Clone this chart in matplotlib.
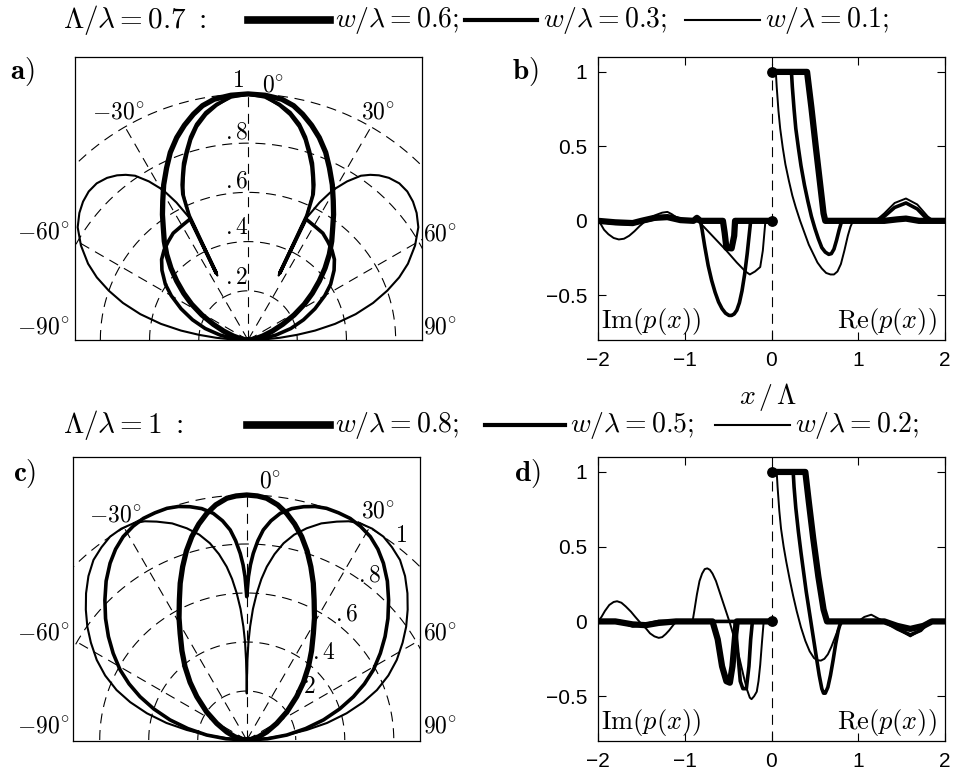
import numpy as np
import matplotlib
matplotlib.use('Agg')
import matplotlib.pyplot as plt
from matplotlib.lines import Line2D

plt.rcParams['mathtext.fontset'] = 'cm'
plt.rcParams['font.family'] = ['Liberation Sans', 'DejaVu Sans']

W, H = 958, 776

# far field patterns, right half only (theta in deg, patterns are symmetric)
# a) Lambda/lambda = 0.7
a_th_06 = [0, 4, 8, 11, 13.6, 16.5, 19.4, 22.5, 25.3, 28.5, 31.5, 34.3, 37, 40.3, 43.5, 47, 50.4,
           54, 57.6, 61.5, 65.6, 70, 75, 80, 85, 90]
a_r_06 = [1.0, 0.997, 0.988, 0.97, 0.944, 0.91, 0.872, 0.825, 0.774, 0.718, 0.663, 0.617, 0.572,
          0.526, 0.48, 0.428, 0.376, 0.323, 0.271, 0.213, 0.155, 0.105, 0.062, 0.032, 0.01, 0.0]
a_th_03 = [0, 4, 7.6, 10.5, 13.4, 15.8, 18, 20, 21.5, 23, 24.1, 25.3, 25.4, 25.6, 28, 31, 35, 39,
           43, 47, 51, 56, 60, 65, 70, 75, 80, 85, 90]
a_r_03 = [1.0, 0.99, 0.966, 0.94, 0.901, 0.857, 0.808, 0.765, 0.724, 0.685, 0.649, 0.56, 0.30,
          0.545, 0.54, 0.535, 0.53, 0.515, 0.5, 0.48, 0.45, 0.405, 0.36, 0.3, 0.24, 0.18, 0.115,
          0.055, 0.0]
a_th_01 = [0, 4, 7.6, 10.5, 13.4, 15.8, 18, 20, 21.5, 23, 24.1, 25.3, 25.4, 25.6, 27.5, 29.5, 32,
           34.5, 36.5, 38.5, 41, 44, 47, 50, 53, 56.5, 60.5, 64.5, 67.5, 70.5, 73.5, 76.5, 79.5,
           82, 84, 86, 88, 90]
a_r_01 = [1.0, 0.99, 0.96, 0.93, 0.89, 0.845, 0.795, 0.75, 0.71, 0.67, 0.635, 0.55, 0.29, 0.55,
          0.63, 0.70, 0.76, 0.81, 0.835, 0.855, 0.873, 0.885, 0.885, 0.875, 0.858, 0.83, 0.78,
          0.72, 0.665, 0.60, 0.53, 0.45, 0.36, 0.275, 0.2, 0.13, 0.065, 0.0]

# c) Lambda/lambda = 1
c_th_08 = [0, 2.5, 4.7, 7.5, 10, 12.5, 15.1, 17.7, 20.3, 23, 25.7, 29, 32, 36, 40.1, 44.5, 49, 55,
           61, 68, 75, 82, 90]
c_r_08 = [1.0, 0.997, 0.99, 0.968, 0.939, 0.903, 0.86, 0.81, 0.754, 0.695, 0.634, 0.57, 0.513,
          0.45, 0.391, 0.33, 0.27, 0.2, 0.14, 0.088, 0.05, 0.02, 0.0]
c_th_05 = [0, 0.3, 0.6, 1.2, 2, 3.2, 4.5, 6.3, 8.4, 11, 13.7, 16.3, 19, 22, 25, 28, 31.3, 34.5,
           37.7, 41.5, 45.4, 49.3, 53.2, 57, 61, 64.5, 67.9, 71.5, 75.3, 79, 82.9, 86.5, 90]
c_r_05 = [0.585, 0.625, 0.667, 0.715, 0.762, 0.815, 0.86, 0.9, 0.935, 0.962, 0.98, 0.993, 1.0, 1.0,
          0.998, 0.988, 0.971, 0.945, 0.912, 0.866, 0.813, 0.76, 0.705, 0.65, 0.591, 0.532, 0.47,
          0.4, 0.324, 0.245, 0.165, 0.085, 0.0]
c_th_02 = [0, 0.25, 0.5, 1, 1.7, 2.7, 3.9, 5.2, 6.6, 8.5, 10.6, 13, 15.8, 19, 22.4, 25, 27.6, 30.7,
           33.9, 37, 40.4, 44, 47.6, 51, 54.6, 58, 61.9, 65.5, 69, 72, 75, 78, 80.5, 83, 85, 87.5, 90]
c_r_02 = [0.19, 0.26, 0.327, 0.4, 0.463, 0.535, 0.6, 0.66, 0.712, 0.767, 0.817, 0.86, 0.898, 0.935,
          0.964, 0.985, 0.998, 1.003, 1.0, 0.985, 0.965, 0.93, 0.888, 0.845, 0.798, 0.75, 0.694,
          0.635, 0.569, 0.5, 0.422, 0.335, 0.248, 0.16, 0.082, 0.035, 0.0]

# b) p(x), Lambda/lambda = 0.7
b_im_x_06 = [-2.0, -1.8, -1.6, -1.5, -1.35, -1.2, -1.05, -0.9, -0.86, -0.82, -0.56, -0.54, -0.52, -0.46, -0.43, -0.42, 0.0]
b_im_y_06 = [0.0, -0.01, -0.015, 0.0, 0.02, 0.025, 0.005, 0.0, 0.02, 0.0, 0.0, -0.08, -0.18, -0.185, -0.1, 0.0, 0.0]
b_im_x_03 = [-2.0, -1.85, -1.65, -1.45, -1.3, -1.15, -1.0, -0.82, -0.8, -0.77, -0.73, -0.69, -0.65,
             -0.61, -0.57, -0.53, -0.49, -0.46, -0.43, -0.4, -0.37, -0.34, -0.31, -0.28, -0.26, -0.24, 0.0]
b_im_y_03 = [0.0, -0.015, -0.02, 0.0, 0.02, 0.03, 0.0, 0.0, -0.06, -0.17, -0.3, -0.4, -0.48,
             -0.545, -0.59, -0.62, -0.635, -0.635, -0.625, -0.6, -0.55, -0.47, -0.36, -0.22, -0.11, 0.0, 0.0]
b_im_x_01 = [-2.0, -1.97, -1.93, -1.88, -1.82, -1.76, -1.7, -1.64, -1.58, -1.52, -1.46, -1.4, -1.33,
             -1.26, -1.2, -1.15, -1.1, -1.05, -1.02, -0.85, -0.78, -0.65, -0.52, -0.4, -0.3, -0.25,
             -0.19, -0.13, -0.1, -0.07, 0.0]
b_im_y_01 = [0.0, -0.02, -0.06, -0.09, -0.115, -0.125, -0.12, -0.1, -0.07, -0.035, -0.005, 0.02, 0.04,
             0.055, 0.06, 0.045, 0.025, 0.005, 0.0, 0.0, -0.04, -0.12, -0.2, -0.28, -0.34, -0.36,
             -0.34, -0.31, -0.2, 0.0, 0.0]
b_re_x_06 = [0.0, 0.41, 0.46, 0.51, 0.56, 0.6, 0.62, 1.3, 1.45, 1.55, 1.7, 2.0]
b_re_y_06 = [1.0, 1.0, 0.76, 0.5, 0.25, 0.05, 0.0, 0.0, 0.01, 0.015, 0.0, 0.0]
b_re_x_03 = [0.23, 0.24, 0.26, 0.28, 0.31, 0.34, 0.38, 0.42, 0.46, 0.5, 0.54, 0.58, 0.62, 0.66, 0.69,
             0.72, 0.75, 0.78, 0.81, 1.2, 1.3, 1.42, 1.55, 1.68, 1.78, 1.85, 2.0]
b_re_y_03 = [1.0, 0.9, 0.75, 0.62, 0.49, 0.37, 0.24, 0.13, 0.03, -0.05, -0.12, -0.18, -0.21, -0.225,
             -0.22, -0.19, -0.13, -0.06, 0.0, 0.0, 0.03, 0.09, 0.12, 0.08, 0.02, 0.0, 0.0]
b_re_x_01 = [0.05, 0.06, 0.08, 0.1, 0.13, 0.16, 0.2, 0.24, 0.28, 0.33, 0.38, 0.43, 0.48, 0.53, 0.58,
             0.63, 0.68, 0.72, 0.76, 0.8, 0.84, 0.88, 0.91, 0.94, 1.2, 1.3, 1.42, 1.55, 1.68, 1.8,
             1.87, 2.0]
b_re_y_01 = [1.0, 0.9, 0.74, 0.62, 0.49, 0.38, 0.27, 0.17, 0.09, 0.0, -0.08, -0.16, -0.22, -0.28,
             -0.32, -0.35, -0.36, -0.36, -0.34, -0.29, -0.2, -0.1, -0.04, 0.0, 0.0, 0.05, 0.12, 0.15,
             0.11, 0.03, 0.0, 0.0]

# d) p(x), Lambda/lambda = 1
d_im_x_08 = [-2.0, -1.8, -1.6, -1.45, -1.3, -1.1, -0.68, -0.62, -0.57, -0.52, -0.48, -0.45, -0.42, -0.4, 0.0]
d_im_y_08 = [0.0, 0.0, -0.02, -0.025, -0.01, 0.0, 0.0, -0.12, -0.3, -0.4, -0.41, -0.3, -0.1, 0.0, 0.0]
d_im_x_05 = [-2.0, -1.75, -1.6, -1.45, -1.3, -1.1, -0.42, -0.39, -0.36, -0.33, -0.29, -0.26, -0.24, -0.22, 0.0]
d_im_y_05 = [0.0, 0.0, -0.03, -0.02, 0.0, 0.0, 0.0, -0.2, -0.4, -0.45, -0.45, -0.3, -0.12, 0.0, 0.0]
d_im_x_02 = [-2.0, -1.96, -1.92, -1.87, -1.82, -1.78, -1.73, -1.68, -1.62, -1.57, -1.51, -1.45, -1.4,
             -1.35, -1.3, -1.26, -1.22, -1.18, -1.14, -1.1, -0.91, -0.89, -0.86, -0.83, -0.8, -0.77,
             -0.74, -0.71, -0.68, -0.64, -0.6, -0.56, -0.52, -0.48, -0.44, -0.4, -0.36, -0.32, -0.28,
             -0.25, -0.23, -0.2, -0.17, -0.15, -0.13, -0.11, -0.09, 0.0]
d_im_y_02 = [0.0, 0.03, 0.07, 0.11, 0.13, 0.135, 0.125, 0.1, 0.065, 0.03, -0.01, -0.045, -0.08,
             -0.1, -0.11, -0.105, -0.085, -0.06, -0.03, 0.0, 0.0, 0.07, 0.18, 0.27, 0.32, 0.35,
             0.355, 0.345, 0.32, 0.27, 0.2, 0.13, 0.06, -0.01, -0.09, -0.17, -0.27, -0.37, -0.46,
             -0.51, -0.52, -0.5, -0.47, -0.4, -0.29, -0.14, 0.0, 0.0]
d_re_x_08 = [0.0, 0.39, 0.43, 0.48, 0.54, 0.6, 0.64, 1.3, 1.45, 1.6, 1.75, 1.85, 2.0]
d_re_y_08 = [1.0, 1.0, 0.8, 0.56, 0.3, 0.08, 0.0, 0.0, -0.03, -0.05, -0.03, 0.0, 0.0]
d_re_x_05 = [0.25, 0.26, 0.28, 0.31, 0.34, 0.37, 0.4, 0.44, 0.48, 0.52, 0.55, 0.58, 0.6, 0.62, 0.65,
             0.68, 0.71, 0.74, 0.77, 0.8, 1.3, 1.45, 1.6, 1.72, 1.82, 2.0]
d_re_y_05 = [1.0, 0.9, 0.76, 0.6, 0.46, 0.33, 0.2, 0.05, -0.1, -0.25, -0.36, -0.45, -0.48, -0.48,
             -0.44, -0.36, -0.26, -0.15, -0.06, 0.0, 0.0, -0.05, -0.09, -0.06, 0.0, 0.0]
d_re_x_02 = [0.06, 0.07, 0.09, 0.11, 0.14, 0.17, 0.21, 0.25, 0.29, 0.34, 0.39, 0.44, 0.49, 0.53, 0.57,
             0.61, 0.65, 0.69, 0.73, 0.77, 0.8, 0.83, 1.0, 1.07, 1.15, 1.23, 1.3, 1.45, 1.6, 1.72,
             1.82, 2.0]
d_re_y_02 = [1.0, 0.9, 0.74, 0.62, 0.5, 0.4, 0.28, 0.17, 0.07, -0.04, -0.13, -0.2, -0.245, -0.26,
             -0.262, -0.25, -0.22, -0.17, -0.11, -0.05, -0.02, 0.0, 0.0, 0.03, 0.045, 0.02, 0.0,
             -0.05, -0.1, -0.06, 0.0, 0.0]

ring_vals = [0.2, 0.4, 0.6, 0.8, 1.0]
ring_labels = ['.2', '.4', '.6', '.8', '1']
spoke_angles = [-60, -30, 0, 30, 60]

LW = [4.5, 2.6, 1.4]   # thick / medium / thin
GRID_DASH = (9, 6)

fig = plt.figure(figsize=(W / 100, H / 100), dpi=100)


def rect(left, top, right, bottom):
    return [left / W, 1 - bottom / H, (right - left) / W, (bottom - top) / H]


def polar_panel(r_, xlim, ylim, curves, rlab_pos, alab_pos):
    ax = fig.add_axes(r_)
    ax.set_xlim(xlim)
    ax.set_ylim(ylim)
    ax.set_xticks([])
    ax.set_yticks([])
    for s in ax.spines.values():
        s.set_linewidth(0.9)
    t = np.linspace(-np.pi / 2, np.pi / 2, 300)
    for rr in ring_vals:
        ax.plot(rr * np.sin(t), rr * np.cos(t), color='k', lw=0.8, dashes=GRID_DASH)
    for a in spoke_angles:
        ar = np.radians(a)
        ax.plot([0, np.sin(ar)], [0, np.cos(ar)], color='k', lw=0.8, dashes=GRID_DASH)
    for th, r, lw in curves:
        th = np.asarray(th, float)
        r = np.asarray(r, float)
        th_full = np.radians(np.concatenate([-th[::-1], th[1:]]))
        r_full = np.concatenate([r[::-1], r[1:]])
        ax.plot(r_full * np.sin(th_full), r_full * np.cos(th_full), color='k', lw=lw,
                solid_joinstyle='round', solid_capstyle='round')
    for lab, (x, y) in zip(ring_labels, rlab_pos):
        ax.text(x, y, '$' + lab + '$', fontsize=17, ha='center', va='center')
    for lab, (x, y) in alab_pos:
        ax.text(x, y, lab, fontsize=17, ha='center', va='center', clip_on=False)
    return ax


def line_panel(r_, im_curves, re_curves, ymin=-0.8, ymax=1.1):
    ax = fig.add_axes(r_)
    ax.axvline(0, color='k', lw=0.8, dashes=GRID_DASH)
    for i, (x, y, lw) in enumerate(im_curves):
        mk = dict(marker='o', markevery=[len(x) - 1], ms=lw * 1.5) if i == 0 else {}
        ax.plot(x, y, color='k', lw=lw, solid_capstyle='round', solid_joinstyle='round', **mk)
    for i, (x, y, lw) in enumerate(re_curves):
        mk = dict(marker='o', markevery=[0], ms=lw * 1.5) if i == 0 else {}
        ax.plot(x, y, color='k', lw=lw, solid_capstyle='round', solid_joinstyle='round', **mk)
    ax.set_xlim(-2, 2)
    ax.set_ylim(ymin, ymax)
    ax.set_xticks([-2, -1, 0, 1, 2])
    ax.set_xticklabels(['\u22122', '\u22121', '0', '1', '2'])
    ax.set_yticks([-0.5, 0, 0.5, 1])
    ax.set_yticklabels(['\u22120.5', '0', '0.5', '1'])
    ax.tick_params(direction='in', top=True, right=True, length=6, width=0.8,
                   labelsize=15, pad=8)
    for s in ax.spines.values():
        s.set_linewidth(0.9)
    ax.text(0.008, 0.065, r'$\mathrm{Im}(p(x))$', transform=ax.transAxes, fontsize=19,
            ha='left', va='center')
    ax.text(0.975, 0.065, r'$\mathrm{Re}(p(x))$', transform=ax.transAxes, fontsize=19,
            ha='right', va='center')
    return ax


ang_a = [(r'$0^{\circ}$', (0.103, 1.033)), (r'$-30^{\circ}$', (-0.527, 0.924)),
         (r'$30^{\circ}$', (0.53, 0.924)), (r'$-60^{\circ}$', (-0.832, 0.436)),
         (r'$60^{\circ}$', (0.78, 0.43)), (r'$-90^{\circ}$', (-0.832, 0.05)),
         (r'$90^{\circ}$', (0.78, 0.05))]
rad_a = [(-0.046, 0.253), (-0.046, 0.456), (-0.046, 0.643), (-0.046, 0.843), (-0.039, 1.053)]

ang_c = [(r'$0^{\circ}$', (0.095, 1.054)), (r'$-30^{\circ}$', (-0.538, 0.918)),
         (r'$30^{\circ}$', (0.535, 0.932)), (r'$-60^{\circ}$', (-0.83, 0.435)),
         (r'$60^{\circ}$', (0.789, 0.435)), (r'$-90^{\circ}$', (-0.83, 0.054)),
         (r'$90^{\circ}$', (0.789, 0.054))]
rad_c = [(0.238, 0.217), (0.313, 0.354), (0.408, 0.514), (0.503, 0.673), (0.628, 0.832)]

# panel a
polar_panel(rect(75, 57, 422, 340), (-0.703, 0.707), (0.0, 1.150),
            [(a_th_06, a_r_06, 3.8), (a_th_03, a_r_03, 2.6), (a_th_01, a_r_01, 1.5)],
            rad_a, ang_a)
# panel c
polar_panel(rect(73, 457, 420, 741), (-0.709, 0.707), (-0.004, 1.155),
            [(c_th_08, c_r_08, 3.8), (c_th_05, c_r_05, 2.6), (c_th_02, c_r_02, 1.5)],
            rad_c, ang_c)
# panel b
line_panel(rect(598, 57, 945, 340),
           [(b_im_x_06, b_im_y_06, LW[0]), (b_im_x_03, b_im_y_03, LW[1]), (b_im_x_01, b_im_y_01, LW[2])],
           [(b_re_x_06, b_re_y_06, LW[0]), (b_re_x_03, b_re_y_03, LW[1]), (b_re_x_01, b_re_y_01, LW[2])])
# panel d
line_panel(rect(598, 457, 945, 741),
           [(d_im_x_08, d_im_y_08, LW[0]), (d_im_x_05, d_im_y_05, LW[1]), (d_im_x_02, d_im_y_02, LW[2])],
           [(d_re_x_08, d_re_y_08, LW[0]), (d_re_x_05, d_re_y_05, LW[1]), (d_re_x_02, d_re_y_02, LW[2])])

fig.text(768 / W, 1 - 397 / H, r'$x\,/\,\Lambda$', fontsize=20, ha='center', va='center')

# panel letters
for lab, (px, py) in [('a)', (22, 72)), ('b)', (525, 72)), ('c)', (25, 473)), ('d)', (527, 473))]:
    fig.text(px / W, 1 - py / H, r'$\mathbf{' + lab + '}$', fontsize=21, ha='center', va='center')


# row headers with line samples
def header(y, head, items):
    fig.text(63 / W, 1 - y / H, head, fontsize=21, ha='left', va='center')
    for (x0, x1, lw, txt, tx) in items:
        fig.add_artist(Line2D([x0 / W, x1 / W], [1 - y / H, 1 - y / H], color='k', lw=lw,
                              transform=fig.transFigure))
        fig.text(tx / W, 1 - y / H, txt, fontsize=20, ha='left', va='center')


header(20, r'$\Lambda/\lambda = 0.7\ :$',
       [(248, 330, 5.5, r'$w/\lambda = 0.6;$', 335),
        (465, 537, 3.0, r'$w/\lambda = 0.3;$', 543),
        (685, 760, 1.5, r'$w/\lambda = 0.1;$', 765)])
header(425, r'$\Lambda/\lambda = 1\ :$',
       [(247, 330, 5.5, r'$w/\lambda = 0.8;$', 335),
        (485, 565, 3.0, r'$w/\lambda = 0.5;$', 570),
        (715, 790, 1.5, r'$w/\lambda = 0.2;$', 795)])

fig.savefig('out.png', dpi=100)
